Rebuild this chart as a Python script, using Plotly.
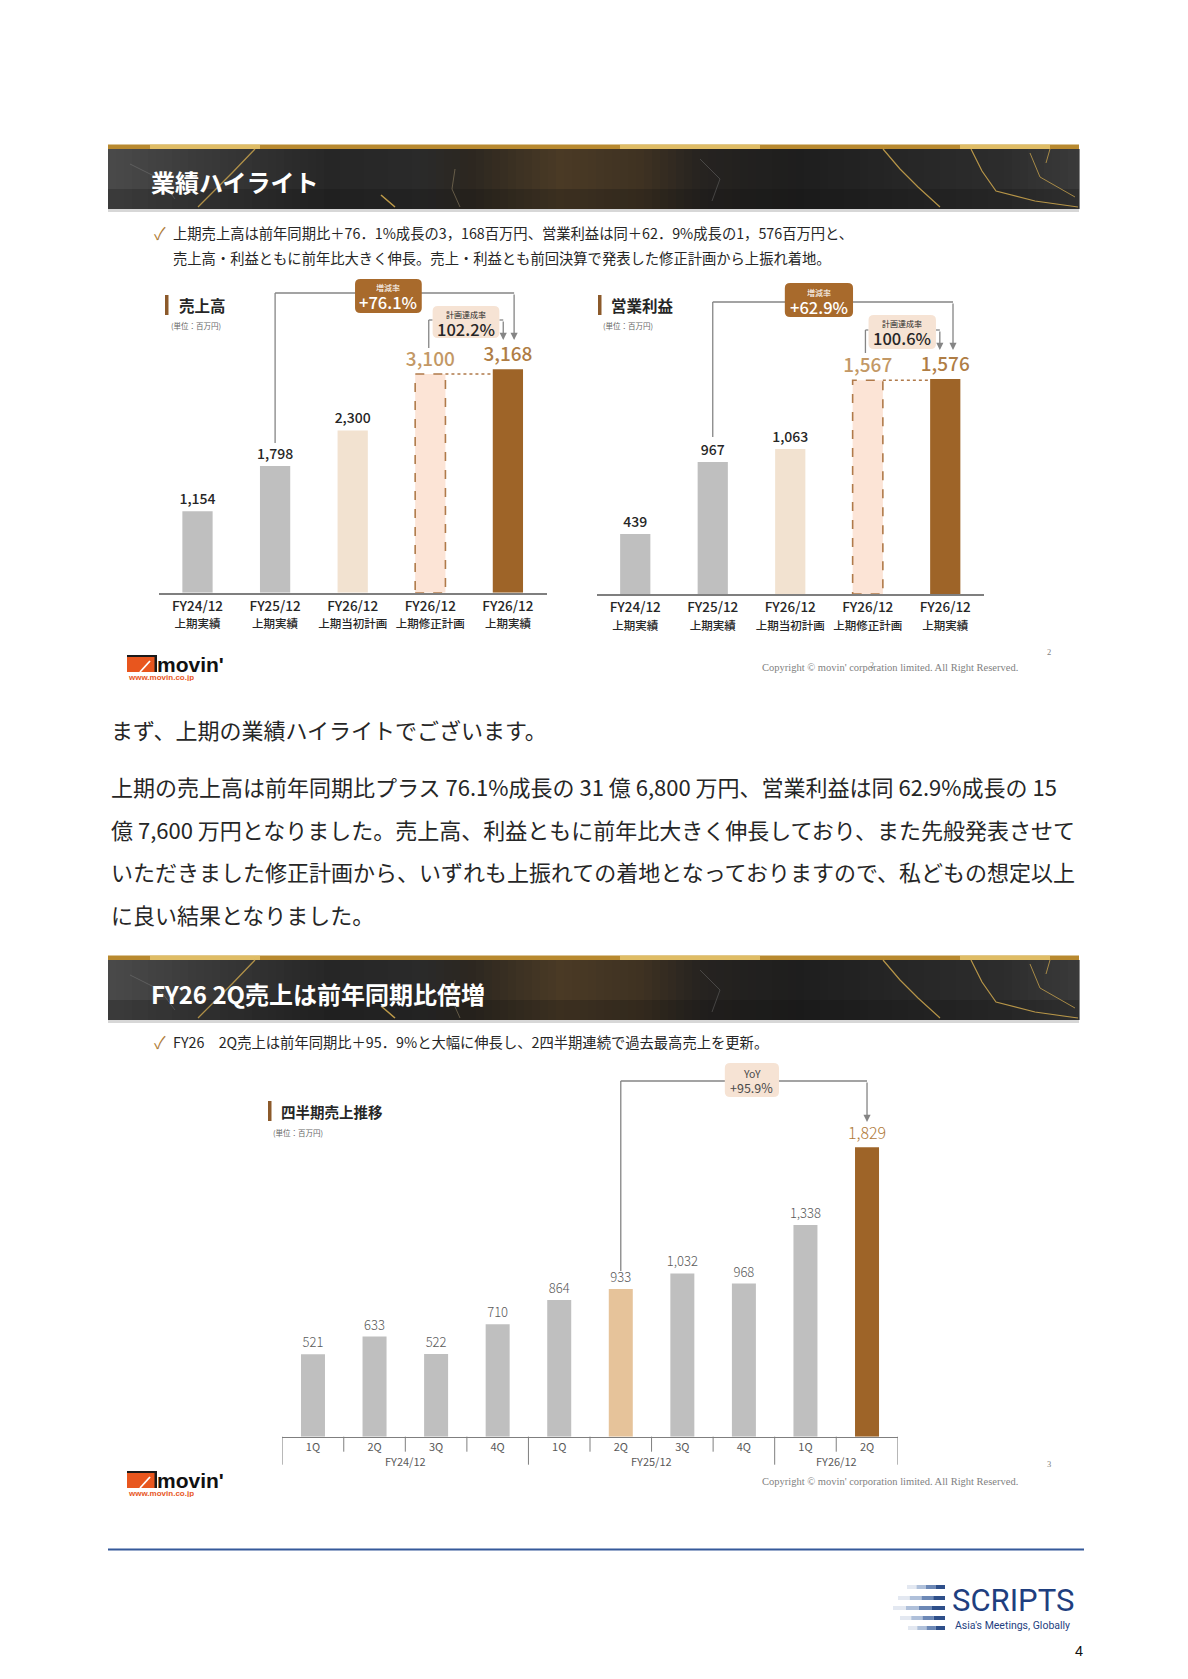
import plotly.graph_objects as go

W, H = 1188, 1679
JP = "Noto Sans CJK JP"
SERIF = "Liberation Serif"

# ---------------- data ----------------
h1_years = ["FY24/12", "FY25/12", "FY26/12", "FY26/12", "FY26/12"]
h1_kinds = ["上期実績", "上期実績", "上期当初計画", "上期修正計画", "上期実績"]
sales_h1 = [1154, 1798, 2300, 3100, 3168]
profit_h1 = [439, 967, 1063, 1567, 1576]
sales_yoy, sales_ach = "+76.1%", "102.2%"
profit_yoy, profit_ach = "+62.9%", "100.6%"

q_fy = ["FY24/12"] * 4 + ["FY25/12"] * 4 + ["FY26/12"] * 2
q_q = ["1Q", "2Q", "3Q", "4Q", "1Q", "2Q", "3Q", "4Q", "1Q", "2Q"]
q_sales = [521, 633, 522, 710, 864, 933, 1032, 968, 1338, 1829]
q_yoy = "+95.9%"

# ---------------- styles ----------------
GRAY = "#BFBFBF"
BEIGE = "#F2E2D0"
PEACH = "#FCE4D6"
BROWN = "#9E6428"
TAN_L = "#C39865"
TAN = "#AF7D45"
LINE = "#858585"
DARK = "#262626"
DASH = "#B07A4A"


def X(p):
    return p / W


def Y(p):
    return 1 - p / H


shapes = []
ann = []


def rect(x0, y0, x1, y1, fill, opacity=1.0):
    shapes.append(dict(type="rect", xref="paper", yref="paper", x0=X(x0), x1=X(x1),
                       y0=Y(y1), y1=Y(y0), fillcolor=fill, opacity=opacity,
                       line=dict(width=0), layer="above"))


def T(x, y, s, size, color=DARK, family=JP, weight="normal", xanchor="left",
      xref="paper", yanchor="middle", borderpad=1, height=None):
    a = dict(x=X(x) if xref == "paper" else x, y=Y(y), xref=xref, yref="paper",
             text=s, showarrow=False, xanchor=xanchor, yanchor=yanchor,
             borderpad=borderpad,
             font=dict(size=size, color=color, family=family, weight=weight))
    if height is not None:
        a["height"] = height
        a["valign"] = "middle"
    ann.append(a)


def box_text(xref, x, y1, y2, label, value, color, s1=8, s2=16.5, w2=500, h1=10, h2=17):
    T(x, y1, label, s1, color, xanchor="center", xref=xref, borderpad=0, height=h1)
    T(x, y2, value, s2, color, weight=w2, xanchor="center", xref=xref, borderpad=0, height=h2)


def poly(points, color, width=1.2, opacity=0.85):
    p = "M" + " L".join(f"{X(a):.5f},{Y(b):.5f}" for a, b in points)
    shapes.append(dict(type="path", xref="paper", yref="paper", path=p,
                       line=dict(color=color, width=width), fillcolor="rgba(0,0,0,0)",
                       opacity=opacity, layer="above"))


def vline(xref, x, ya, yb, color=LINE, width=1.3):
    shapes.append(dict(type="line", xref=xref, yref="paper", x0=x, x1=x, y0=Y(ya), y1=Y(yb),
                       line=dict(color=color, width=width), layer="above"))


def hline(xref, xa, xb, y, color=LINE, width=1.3):
    shapes.append(dict(type="line", xref=xref, yref="paper", x0=xa, x1=xb, y0=Y(y), y1=Y(y),
                       line=dict(color=color, width=width), layer="above"))


def arrow(xref, x, ytip, ytop):
    ann.append(dict(xref=xref, yref="paper", x=x, y=Y(ytip), ax=0, ay=-(ytip - ytop),
                    text="", showarrow=True, arrowhead=2, arrowsize=1.1, arrowwidth=1.3,
                    arrowcolor=LINE, standoff=0))


def rbox(xref, xa, xb, ya, yb, rx, ry_px, fill):
    t, b = Y(ya), Y(yb)
    r = ry_px / H
    p = (f"M{xa+rx},{t} L{xb-rx},{t} Q{xb},{t} {xb},{t-r} L{xb},{b+r} Q{xb},{b} {xb-rx},{b} "
         f"L{xa+rx},{b} Q{xa},{b} {xa},{b+r} L{xa},{t-r} Q{xa},{t} {xa+rx},{t} Z")
    shapes.append(dict(type="path", xref=xref, yref="paper", path=p, fillcolor=fill,
                       line=dict(width=0), layer="above"))


def hexrgb(h):
    return tuple(int(h[i:i + 2], 16) for i in (1, 3, 5))


# banner background tone profile (decorative)
TONE = [(108, "#4A4A4A"), (200, "#3A3A3A"), (330, "#262626"), (420, "#2A2A2A"),
        (470, "#2C2720"), (560, "#4A3A25"), (640, "#3F3222"), (700, "#262320"),
        (800, "#1E1E1E"), (900, "#262626"), (1000, "#2C2C2C"), (1079, "#3A3A3A")]


def tone_at(x):
    for (xa, ca), (xb, cb) in zip(TONE[:-1], TONE[1:]):
        if xa <= x <= xb:
            t = (x - xa) / (xb - xa)
            a, b = hexrgb(ca), hexrgb(cb)
            return "rgb(%d,%d,%d)" % tuple(round(a[k] + (b[k] - a[k]) * t) for k in range(3))
    return TONE[-1][1]


# ---------------- banners ----------------
def banner(y0, title):
    rect(108, y0 - 4.5, 1079, y0, "#B8892F")
    for a, b in [(150, 260), (620, 760), (960, 1050)]:
        rect(a, y0 - 4.5, b, y0, "#EFD27C", 0.7)
    step = 8
    x = 108
    while x < 1079:
        x2 = min(x + step, 1079)
        rect(x, y0, x2 + 0.6, y0 + 60, tone_at(x + step / 2))
        x = x2
    rect(108, y0 + 40, 1079, y0 + 60, "#101010", 0.25)
    rect(108, y0 + 60, 1079, y0 + 63, "#8C8C8C", 0.35)
    gold = "#CFA84E"
    poly([(255, y0), (232, y0 + 24), (198, y0 + 58)], gold, 1.3, 0.8)
    poly([(381, y0 + 46), (388, y0 + 52), (395, y0 + 58)], gold, 1.6, 0.9)
    poly([(455, y0 + 20), (452, y0 + 40), (460, y0 + 58)], "#9A8A6A", 0.9, 0.6)
    poly([(883, y0), (900, y0 + 20), (918, y0 + 38), (940, y0 + 58)], gold, 1.2, 0.85)
    poly([(971, y0), (982, y0 + 22), (996, y0 + 42), (1035, y0 + 52), (1078, y0 + 58)], gold, 1.2, 0.85)
    poly([(1030, y0 + 4), (1040, y0 + 28), (1075, y0 + 48)], gold, 1.0, 0.75)
    poly([(1050, y0), (1046, y0 + 14)], gold, 1.0, 0.75)
    poly([(700, y0 + 10), (720, y0 + 30), (712, y0 + 52)], "#8A8A8A", 0.8, 0.45)
    poly([(130, y0 + 15), (160, y0 + 30), (175, y0 + 50)], "#8A8A8A", 0.8, 0.45)
    T(149, y0 + 33, title, 24, "white", weight="bold")


banner(149, "業績ハイライト")
banner(960, "FY26 2Q売上は前年同期比倍増")

# check lines
T(152, 232, "✓", 17, "#B07D3A")
T(171, 232, "上期売上高は前年同期比＋76．1%成長の3，168百万円、営業利益は同＋62．9%成長の1，576百万円と、", 14.3)
T(171, 258, "売上高・利益ともに前年比大きく伸長。売上・利益とも前回決算で発表した修正計画から上振れ着地。", 14.3)
T(152, 1041, "✓", 17, "#B07D3A")
T(171, 1041, "FY26　2Q売上は前年同期比＋95．9%と大幅に伸長し、2四半期連続で過去最高売上を更新。", 14.3)

# chart titles
for mx, tx, ux, ty, title in [(165, 177, 169, 305, "売上高"), (598, 609, 601, 305, "営業利益")]:
    rect(mx, ty - 10, mx + 3.5, ty + 10, "#8C5A2B")
    T(tx, ty, title, 15.5, DARK, weight="bold")
    T(ux, ty + 20.5, "(単位：百万円)", 7.5, "#666666")
rect(268, 1101, 271.5, 1121, "#8C5A2B")
T(279, 1111, "四半期売上推移", 14.5, DARK, weight="bold")
T(271, 1132, "(単位：百万円)", 7.5, "#666666")

# ---------------- chart 1 & 2 ----------------
cols5 = [GRAY, GRAY, BEIGE, PEACH, BROWN]
tickt = [f"{a}<br><span style='font-size:11.5px'>{b}</span>" for a, b in zip(h1_years, h1_kinds)]
BW = 0.39

traces = []
for ax, vals in [("", sales_h1), ("2", profit_h1)]:
    n = len(vals)
    traces.append(go.Bar(
        x=list(range(n)), y=vals, xaxis="x" + ax, yaxis="y" + ax, width=BW,
        marker=dict(color=cols5, line=dict(width=0)),
        text=[f"{v:,}" for v in vals], textposition="outside", textangle=0,
        constraintext="none", cliponaxis=False,
        textfont=dict(family=JP, size=[14, 14, 14, 19, 19],
                      color=[DARK, DARK, DARK, TAN_L, TAN], weight=500),
        hoverinfo="skip"))
    xr = "x" + ax
    yr = "y" + ax
    shapes.append(dict(type="rect", xref=xr, yref=yr, x0=3 - BW / 2, x1=3 + BW / 2, y0=0,
                       y1=vals[3], line=dict(color=DASH, width=1.6, dash="dash"),
                       fillcolor="rgba(0,0,0,0)", layer="above"))
    shapes.append(dict(type="line", xref=xr, yref=yr, x0=3 + BW / 2, x1=4 - BW / 2,
                       y0=vals[3], y1=vals[3], line=dict(color=DASH, width=1.4, dash="dot"),
                       layer="above"))

# chart 1 brackets (x in category index units)
vline("x", 1, 443, 293)
hline("x", 1, 4.08, 293)
arrow("x", 4.08, 340, 293)
vline("x", 2.98, 348, 320)
hline("x", 2.98, 3.03, 320)
hline("x", 3.89, 3.94, 320)
arrow("x", 3.94, 340, 320)
rbox("x", 2.03, 2.89, 279, 313, 0.07, 5, "#A86A2C")
rbox("x", 3.03, 3.89, 306, 338, 0.07, 5, "#F6E3D4")
box_text("x", 2.46, 287, 301.5, "増減率", sales_yoy, "white")
box_text("x", 3.46, 314, 328, "計画達成率", sales_ach, DARK)

# chart 2 brackets
vline("x2", 1, 437, 302)
hline("x2", 1, 4.10, 302)
arrow("x2", 4.10, 350, 302)
vline("x2", 2.97, 353, 330)
hline("x2", 2.97, 3.01, 330)
hline("x2", 3.88, 3.93, 330)
arrow("x2", 3.93, 350, 330)
rbox("x2", 1.93, 2.81, 283, 317, 0.07, 5, "#A86A2C")
rbox("x2", 3.01, 3.88, 315, 349, 0.07, 5, "#F6E3D4")
box_text("x2", 2.37, 291.5, 306, "増減率", profit_yoy, "white")
box_text("x2", 3.445, 323, 337.5, "計画達成率", profit_ach, DARK)

# ---------------- chart 3 ----------------
nq = len(q_sales)
qcols = [GRAY] * nq
qcols[nq - 5] = "#E6C39A"
qcols[nq - 1] = BROWN
qsizes = [13] * nq
qsizes[nq - 1] = 16
qtc = ["#595959"] * nq
qtc[nq - 1] = "#B07A38"
traces.append(go.Bar(
    x=list(range(nq)), y=q_sales, xaxis="x3", yaxis="y3", width=0.39,
    marker=dict(color=qcols, line=dict(width=0)),
    text=[f"{v:,}" for v in q_sales], textposition="outside", textangle=0,
    constraintext="none", cliponaxis=False,
    textfont=dict(family=JP, size=qsizes, color=qtc, weight=300),
    hoverinfo="skip"))

BASE3 = 1436.7
starts = [0] + [i for i in range(1, nq) if q_fy[i] != q_fy[i - 1]] + [nq]
for i in range(nq + 1):
    pos = i - 0.5
    long_ = i in starts
    vline("x3", pos, BASE3, BASE3 + (28 if long_ else 15), "#7F7F7F", 1)
for a, b in zip(starts[:-1], starts[1:]):
    T((a + b - 1) / 2, 1461, q_fy[a], 11, "#595959", xanchor="center", xref="x3")

prev_i, cur_i = nq - 5, nq - 1
vline("x3", prev_i, 1271, 1081)
hline("x3", prev_i, cur_i, 1081)
arrow("x3", cur_i, 1122, 1081)
rbox("x3", 6.69, 7.57, 1063, 1097, 0.09, 5, "#F6E3D4")
box_text("x3", 7.13, 1072.5, 1087, "YoY", q_yoy, "#4A4A4A", s1=10.5, s2=12.5, w2=400,
         h1=12, h2=14)

# ---------------- footers ----------------
def movin(y0):
    rect(127, y0, 157, y0 + 17, "#E8561E")
    rect(127, y0, 157, y0 + 2, "#1A1A1A")
    rect(154.5, y0, 157, y0 + 17, "#1A1A1A")
    poly([(140, y0 + 17), (150, y0 + 6)], "white", 1.8, 1)
    T(156, y0 + 9, "movin'", 21, "#111111", family="Liberation Sans", weight="bold",
      borderpad=0, height=18)
    T(127, y0 + 22, "www.movin.co.jp", 8, "#E8561E", family="Liberation Sans", weight="bold",
      borderpad=0, height=8)


movin(655)
T(760, 668, "Copyright © movin' corporation limited. All Right Reserved.", 10.5, "#7F7F7F", family=SERIF)
T(868, 665, "2", 8, "#7F7F7F", family=SERIF)
T(1045, 652, "2", 8.5, "#7F7F7F", family=SERIF)
movin(1471)
T(760, 1481, "Copyright © movin' corporation limited. All Right Reserved.", 10.5, "#7F7F7F", family=SERIF)
T(1045, 1464, "3", 8.5, "#7F7F7F", family=SERIF)

# ---------------- transcript text ----------------
body = [
    (729, "まず、上期の業績ハイライトでございます。"),
    (786, "上期の売上高は前年同期比プラス 76.1%成長の 31 億 6,800 万円、営業利益は同 62.9%成長の 15"),
    (829, "億 7,600 万円となりました。売上高、利益ともに前年比大きく伸長しており、また先般発表させて"),
    (871, "いただきました修正計画から、いずれも上振れての着地となっておりますので、私どもの想定以上"),
    (914, "に良い結果となりました。"),
]
for y, s in body:
    T(109, y, s, 22, "#262626")

# ---------------- bottom ----------------
shapes.append(dict(type="line", xref="paper", yref="paper", x0=X(108), x1=X(1084), y0=Y(1549.5),
                   y1=Y(1549.5), line=dict(color="#35599A", width=2.2), layer="above"))
for y, x0 in [(1587, 907), (1598, 898), (1608, 893), (1618, 900), (1628, 908)]:
    seg = (945 - x0) / 4
    for k, c in enumerate(["#E3E8F1", "#AFC0DA", "#6C88B6", "#2E4F8A"]):
        rect(x0 + k * seg, y - 2, x0 + (k + 1) * seg, y + 2, c)
T(950, 1600, "SCRIPTS", 31, "#1F3F7F", family="Roboto")
T(953, 1625, "Asia's Meetings, Globally", 10.5, "#1F3F7F", family="Roboto")
T(1073, 1651, "4", 14.5, "#111111", family="Liberation Sans")

# ---------------- layout ----------------
def xax(d0, d1, n, anchor, **kw):
    base = dict(domain=[X(d0), X(d1)], range=[-0.5, n - 0.5], showgrid=False, zeroline=False,
                showline=True, linecolor="#7F7F7F", linewidth=1.5, ticks="", anchor=anchor,
                fixedrange=True)
    base.update(kw)
    return base


def yax(base, top, rmax, anchor):
    return dict(domain=[Y(base), Y(top)], range=[0, rmax], visible=False, anchor=anchor,
                fixedrange=True)


layout = dict(
    width=W, height=H, margin=dict(l=0, r=0, t=0, b=0, pad=0),
    paper_bgcolor="white", plot_bgcolor="rgba(0,0,0,0)", showlegend=False,
    xaxis=xax(158.7, 546.7, 5, "y", tickvals=list(range(5)), ticktext=tickt,
              tickfont=dict(family=JP, size=13.5, color=DARK, weight=500)),
    yaxis=yax(592.7, 310.6, 4000, "x"),
    xaxis2=xax(596.5, 984.0, 5, "y2", tickvals=list(range(5)), ticktext=tickt,
               tickfont=dict(family=JP, size=13.5, color=DARK, weight=500)),
    yaxis2=yax(594.0, 321.2, 2000, "x2"),
    xaxis3=xax(282.2, 897.8, nq, "y3", tickvals=list(range(nq)), ticktext=q_q,
               linewidth=1.3, tickfont=dict(family=JP, size=11, color="#595959")),
    yaxis3=yax(BASE3, 1120.2, 2000, "x3"),
    shapes=shapes, annotations=ann, bargap=0.5,
)

fig = go.Figure(data=traces, layout=layout)
fig.write_html("out.html", config={"displayModeBar": False},
               post_script="document.body.style.margin='0';document.body.style.overflow='hidden';")
